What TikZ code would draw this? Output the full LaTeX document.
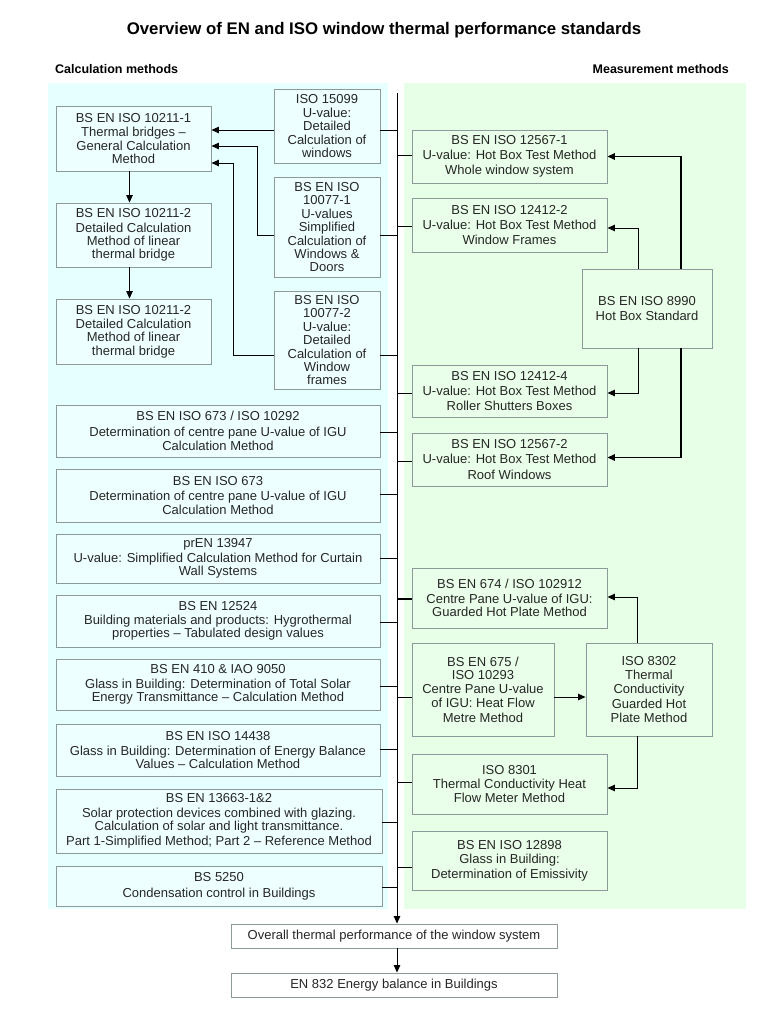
\documentclass[tikz,border=0pt]{standalone}
\usepackage{fontspec}
\setmainfont{Liberation Sans}
\usetikzlibrary{arrows.meta}
\definecolor{cyanbg}{HTML}{E6FFFF}
\definecolor{cyanbox}{HTML}{EEFFFF}
\definecolor{greenbg}{HTML}{E6FFE6}
\definecolor{greenbox}{HTML}{E9FFE9}
\definecolor{bord}{HTML}{8C9A9A}
\definecolor{txt}{HTML}{262626}
\begin{document}
\begin{tikzpicture}[x=1pt,y=-1pt,
  every node/.style={text=txt},
  box/.style={draw=bord, line width=0.9pt, align=center, inner sep=0pt,
    font=\fontsize{13}{13.3}\selectfont},
  cbox/.style={box, fill=cyanbox},
  gbox/.style={box, fill=greenbox},
  wbox/.style={box, fill=white},
  sz/.style 2 args={minimum width=#1pt, minimum height=#2pt},
  link/.style={line width=0.9pt, draw=black},
  arr/.style={link, -{Triangle[length=7.5pt,width=6.5pt]}},
  heading/.style={inner sep=0pt, text=black, font=\bfseries\fontsize{12.5}{14}\selectfont}
]
\useasboundingbox (0,0) rectangle (768,1024);
\fill[cyanbg] (48,83) rectangle (388,909);
\fill[greenbg] (404,83) rectangle (746,909);

% headings
\node[heading, font=\bfseries\fontsize{16.8}{19}\selectfont] (title) at (384,30)
  {Overview of EN and ISO window thermal performance standards};
\node[heading, anchor=west] (hcalc) at (55,69) {Calculation methods};
\node[heading, anchor=east] (hmeas) at (729,69) {Measurement methods};

% calculation column
\node[cbox, sz={106}{74}] (b15099) at (327,126)
  {ISO 15099\\[1pt]U-value:\\Detailed\\Calculation of\\windows};
\node[cbox, sz={155}{65}] (b10211a) at (133.5,138.5)
  {BS EN ISO 10211-1\\[1pt]Thermal bridges --\\General Calculation\\Method};
\node[cbox, sz={155}{64}] (b10211b) at (133.5,235)
  {BS EN ISO 10211-2\\[1pt]Detailed Calculation\\Method of linear\\thermal bridge};
\node[cbox, sz={155}{65}] (b10211c) at (133.5,331.5)
  {BS EN ISO 10211-2\\[1pt]Detailed Calculation\\Method of linear\\thermal bridge};
\node[cbox, sz={106}{100}] (b10077a) at (327,227)
  {BS EN ISO\\10077-1\\[1pt]U-values\\Simplified\\Calculation of\\Windows \&\\Doors};
\node[cbox, sz={106}{98}] (b10077b) at (327,340)
  {BS EN ISO\\10077-2\\[1pt]U-value:\\Detailed\\Calculation of\\Window\\frames};
\node[cbox, sz={324}{52}] (b673a) at (218,431)
  {BS EN ISO 673 / ISO 10292\\[2pt]Determination of centre pane U-value of IGU\\[1pt]Calculation Method};
\node[cbox, sz={324}{53}] (b673b) at (218,495.5)
  {BS EN ISO 673\\[2pt]Determination of centre pane U-value of IGU\\[1pt]Calculation Method};
\node[cbox, sz={324}{49}] (b13947) at (218,558.5)
  {prEN 13947\\[1pt]U-value: Simplified Calculation Method for Curtain\\Wall Systems};
\node[cbox, sz={324}{52}] (b12524) at (218,621)
  {BS EN 12524\\[1pt]Building materials and products: Hygrothermal\\properties -- Tabulated design values};
\node[cbox, sz={324}{51}] (b410) at (218,684.5)
  {BS EN 410 \& IAO 9050\\[2pt]Glass in Building: Determination of Total Solar\\Energy Transmittance -- Calculation Method};
\node[cbox, sz={324}{52}] (b14438) at (218,750)
  {BS EN ISO 14438\\[2pt]Glass in Building: Determination of Energy Balance\\Values -- Calculation Method};
\node[cbox, sz={326}{64}] (b13663) at (219,821)
  {BS EN 13663-1\&2\\[1pt]Solar protection devices combined with glazing.\\Calculation of solar and light transmittance.\\[2pt]Part 1-Simplified Method; Part 2 -- Reference Method};
\node[cbox, sz={326}{40}] (b5250) at (219,886)
  {BS 5250\\[3pt]Condensation control in Buildings};

% measurement column
\node[gbox, sz={195}{53}] (b12567a) at (509.5,156.5)
  {BS EN ISO 12567-1\\[2pt]U-value: Hot Box Test Method\\[2pt]Whole window system};
\node[gbox, sz={195}{54}] (b12412a) at (509.5,225)
  {BS EN ISO 12412-2\\[2pt]U-value: Hot Box Test Method\\[2pt]Window Frames};
\node[gbox, sz={130}{79}] (b8990) at (647,308.5)
  {BS EN ISO 8990\\[1pt]Hot Box Standard};
\node[gbox, sz={195}{52}] (b12412b) at (509.5,391)
  {BS EN ISO 12412-4\\[2pt]U-value: Hot Box Test Method\\[2pt]Roller Shutters Boxes};
\node[gbox, sz={195}{53}] (b12567b) at (509.5,459.5)
  {BS EN ISO 12567-2\\[2pt]U-value: Hot Box Test Method\\[2pt]Roof Windows};
\node[gbox, sz={195}{60}] (b674) at (509.5,598)
  {BS EN 674 / ISO 102912\\[1pt]Centre Pane U-value of IGU:\\Guarded Hot Plate Method};
\node[gbox, sz={142}{93}] (b675) at (483,689.5)
  {BS EN 675 /\\ISO 10293\\[1pt]Centre Pane U-value\\[1pt]of IGU: Heat Flow\\[1pt]Metre Method};
\node[gbox, sz={126}{93}] (b8302) at (649,689.5)
  {ISO 8302\\[1pt]Thermal\\[1pt]Conductivity\\[1pt]Guarded Hot\\[1pt]Plate Method};
\node[gbox, sz={195}{60}] (b8301) at (509.5,784)
  {ISO 8301\\[1pt]Thermal Conductivity Heat\\[1pt]Flow Meter Method};
\node[gbox, sz={195}{59}] (b12898) at (509.5,860.5)
  {BS EN ISO 12898\\[1pt]Glass in Building:\\[1pt]Determination of Emissivity};

% bottom
\node[wbox, sz={326}{24}] (bover) at (394,936)
  {Overall thermal performance of the window system};
\node[wbox, sz={326}{24}] (ben832) at (394,985)
  {EN 832 Energy balance in Buildings};

% spine
\coordinate (sp) at (397,93);
\draw[arr] (sp) -- (sp |- bover.north);
\draw[arr] (sp |- bover.south) -- (sp |- ben832.north);

% left links to spine
\draw[link] ([yshift=-4]b15099.east) coordinate (t) -- (t -| sp);
\draw[link] ([yshift=-8]b10077a.east) coordinate (t) -- (t -| sp);
\draw[link] ([yshift=-15]b10077b.east) coordinate (t) -- (t -| sp);
\draw[link] ([yshift=-1]b673a.east) coordinate (t) -- (t -| sp);
\draw[link] ([yshift=1.5]b673b.east) coordinate (t) -- (t -| sp);
\draw[link] (b13947.east) -- (b13947.east -| sp);
\draw[link] ([yshift=-1]b12524.east) coordinate (t) -- (t -| sp);
\draw[link] ([yshift=-1.5]b410.east) coordinate (t) -- (t -| sp);
\draw[link] ([yshift=1]b14438.east) coordinate (t) -- (t -| sp);
\draw[link] ([yshift=-1]b13663.east) coordinate (t) -- (t -| sp);
\draw[link] ([yshift=-1]b5250.east) coordinate (t) -- (t -| sp);

% right links to spine
\draw[link] ([yshift=1.5]b12567a.west) coordinate (t) -- (t -| sp);
\draw[link] ([yshift=-1]b12412a.west) coordinate (t) -- (t -| sp);
\draw[link] ([yshift=-2]b12412b.west) coordinate (t) -- (t -| sp);
\draw[link] ([yshift=-1.5]b12567b.west) coordinate (t) -- (t -| sp);
\draw[link, line width=1.5pt] ([yshift=-1]b674.west) coordinate (t) -- (t -| sp);
\draw[link] ([yshift=-7.5]b675.west) coordinate (t) -- (t -| sp);
\draw[link] ([yshift=2]b8301.west) coordinate (t) -- (t -| sp);
\draw[link] ([yshift=-6.5]b12898.west) coordinate (t) -- (t -| sp);

% calculation arrows
\draw[arr] ([yshift=-4]b15099.west) coordinate (t) -- (t -| b10211a.east);
\draw[arr] ([yshift=-8]b10077a.west) -- ++(-16,0) |- ([yshift=-7.5]b10211a.east);
\draw[arr] ([yshift=-15]b10077b.west) -- ++(-40,0) |- ([yshift=-24.5]b10211a.east);
\draw[arr] ([xshift=-4]b10211a.south) -- ([xshift=-4]b10211b.north);
\draw[arr] ([xshift=-4]b10211b.south) -- ([xshift=-4]b10211c.north);

% measurement arrows
\draw[arr, line width=1.6pt] ([xshift=34]b8990.north) |- (b12567a.east);
\draw[arr] ([xshift=-9]b8990.north) |- ([yshift=-3]b12412a.east);
\draw[arr] ([xshift=-9]b8990.south) |- ([yshift=-2]b12412b.east);
\draw[arr, line width=1.6pt] ([xshift=34]b8990.south) |- ([yshift=2]b12567b.east);
\draw[arr] ([xshift=-12]b8302.north) |- ([yshift=1]b674.east);
\draw[arr] ([xshift=-12]b8302.south) |- ([yshift=-4]b8301.east);
\draw[arr] ([yshift=-7.5]b675.east) -- ([yshift=-7.5]b8302.west);
\end{tikzpicture}
\end{document}
